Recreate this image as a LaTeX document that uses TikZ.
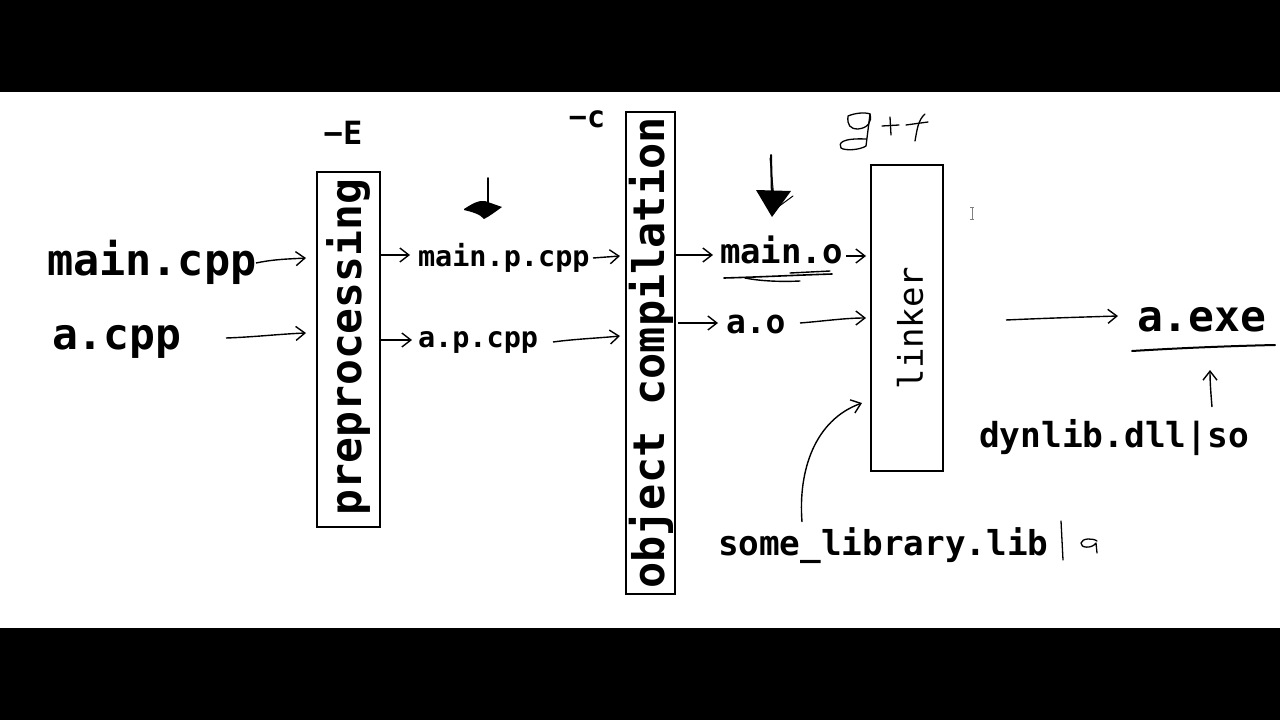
\documentclass[tikz,border=0pt]{standalone}
\usepackage{fontspec}
\newfontfamily\mono{DejaVu Sans Mono}
\usetikzlibrary{arrows.meta}
\tikzset{
  txt/.style={inner sep=0pt, outer sep=0pt, font=\mono\bfseries},
  arr/.style={line width=1.4pt, -{Straight Barb[length=9pt,width=14pt,line width=1.4pt]}},
  hand/.style={line width=1.3pt, line cap=round, line join=round},
}
\begin{document}
\begin{tikzpicture}[x=1pt,y=-1pt]
\useasboundingbox (0,0) rectangle (1280,720);
\fill[black] (0,0) rectangle (1280,720);
\fill[white] (0,92) rectangle (1280,628);

% boxes
\node[draw, line width=2.6pt, minimum width=63pt, minimum height=355pt, inner sep=0pt] (pre) at (348.5,349.5) {};
\node[draw, line width=2.6pt, minimum width=49pt, minimum height=482pt, inner sep=0pt] (obj) at (650.5,353) {};
\node[draw, line width=2.6pt, minimum width=72pt, minimum height=306pt, inner sep=0pt] (lnk) at (907,318) {};

\node[txt, rotate=90, font=\mono\bfseries\fontsize{43}{43}\selectfont] (pretxt) at (348,347) {preprocessing};
\node[txt, rotate=90, font=\mono\bfseries\fontsize{43.5}{43.5}\selectfont] (objtxt) at (651,353) {object compilation};
\node[txt, rotate=90, font=\mono\fontsize{34}{34}\selectfont] (lnktxt) at (910,328) {linker};

% texts
\node[txt, anchor=base west, font=\mono\bfseries\fontsize{43.5}{43.5}\selectfont] (maincpp) at (47,275) {main.cpp};
\node[txt, anchor=base west, font=\mono\bfseries\fontsize{43}{43}\selectfont] (acpp) at (52,349) {a.cpp};
\node[txt, anchor=base, font=\mono\bfseries\fontsize{32}{32}\selectfont] (optE) at (343,144) {−E};
\node[txt, anchor=base, font=\mono\bfseries\fontsize{30}{30}\selectfont] (optc) at (587,127) {−c};
\node[txt, anchor=base west, font=\mono\bfseries\fontsize{28.5}{28.5}\selectfont] (mainp) at (418,266) {main.p.cpp};
\node[txt, anchor=base west, font=\mono\bfseries\fontsize{28.5}{28.5}\selectfont] (ap) at (418,347) {a.p.cpp};
\node[txt, anchor=base west, font=\mono\bfseries\fontsize{34}{34}\selectfont] (maino) at (720,263) {main.o};
\node[txt, anchor=base west, font=\mono\bfseries\fontsize{33}{33}\selectfont] (ao) at (726,333) {a.o};
\node[txt, anchor=base west, font=\mono\bfseries\fontsize{43}{43}\selectfont] (aexe) at (1137,331) {a.exe};
\node[txt, anchor=base west, font=\mono\bfseries\fontsize{34.5}{34.5}\selectfont] (dyn) at (979,447) {dynlib.dll|so};
\node[txt, anchor=base west, font=\mono\bfseries\fontsize{34.3}{34.3}\selectfont] (some) at (718,555) {some\_library.lib};

% connector coordinates
\coordinate (c1) at (256,263);
\coordinate (c1e) at (306,258);
\coordinate (c2) at (226,338);
\coordinate (c2e) at (306,333);
\coordinate (p1e) at (410,255);
\coordinate (p2e) at (412,340);
\coordinate (m1) at (593,258);
\coordinate (m1e) at (620,256);
\coordinate (m2) at (553,342);
\coordinate (m2e) at (620,336);
\coordinate (o1e) at (713,255);
\coordinate (o2s) at (678,323);
\coordinate (o2e) at (718,323);
\coordinate (l1) at (846,256);
\coordinate (l1e) at (866,256);
\coordinate (l2) at (800,323);
\coordinate (l2e) at (866,318);
\coordinate (x1) at (1006,320);
\coordinate (x1e) at (1118,316);
\coordinate (d1) at (1212,407);
\coordinate (d1e) at (1210,370);
\coordinate (s1) at (802,522);
\coordinate (s1e) at (862,403);

\draw[arr] (c1) .. controls (275,259) and (290,259) .. (c1e);
\draw[arr] (c2) .. controls (255,337) and (280,334) .. (c2e);
\draw[arr] (pre.east |- p1e) -- (p1e);
\draw[arr] (pre.east |- p2e) -- (p2e);
\draw[arr] (m1) -- (m1e);
\draw[arr] (m2) .. controls (575,339) and (600,338) .. (m2e);
\draw[arr] (obj.east |- o1e) -- (o1e);
\draw[arr] (o2s) -- (o2e);
\draw[arr] (l1) -- (l1e);
\draw[arr] (l2) .. controls (825,321) and (845,318) .. (l2e);
\draw[arr] (x1) .. controls (1050,318) and (1085,317) .. (x1e);
\draw[arr] (d1) .. controls (1211,395) and (1210,383) .. (d1e);
\draw[arr] (s1) .. controls (798,470) and (815,420) .. (s1e);

% down arrows
\draw[hand, line width=1.6pt] (488,178) -- (488,212);
\fill[black] (464,209) .. controls (472,204) and (478,200) .. (485,201) -- (502,207) .. controls (495,212) and (490,216) .. (484,219) .. controls (480,214) and (472,212) .. (464,210) -- cycle;
\draw[hand, line width=2pt] (771,155) -- (772,200);
\fill[black] (756,190) -- (791,191) -- (772,217) -- cycle;
\draw[hand, line width=1pt] (770,158) -- (774,198);
\draw[hand, line width=1pt] (778,207) -- (793,196);

% underlines
\draw[hand, line width=1.6pt] (724,278) .. controls (760,277) and (800,275) .. (832,274);
\draw[hand, line width=1.4pt] (745,278) .. controls (760,281) and (780,282) .. (800,281);
\draw[hand, line width=1.4pt] (790,273) -- (830,271);
\draw[hand, line width=2pt] (1132,351) .. controls (1180,348) and (1230,346) .. (1275,345);

% handwritten g++
\draw[hand] (848,116) .. controls (855,113) and (865,112) .. (870,114) .. controls (872,122) and (868,128) .. (858,129) .. controls (850,129) and (847,125) .. (848,116);
\draw[hand] (870,114) -- (866,146) .. controls (860,150) and (845,151) .. (841,148) .. controls (838,143) and (842,138) .. (866,139);
\draw[hand] (882,126) -- (899,125);
\draw[hand] (890,117) -- (891,135);
\draw[hand] (906,125) -- (928,122);
\draw[hand] (925,114) .. controls (918,120) and (917,130) .. (915,141);

% handwritten |a
\draw[hand] (1061,521) -- (1063,560);
\draw[hand] (1097,541) .. controls (1093,538) and (1082,538) .. (1081,543) .. controls (1080,548) and (1092,549) .. (1096,543) -- (1097,553);

% cursor
\draw[gray, line width=0.8pt] (972,207) -- (972,219) (970,207) -- (974,207) (970,219) -- (974,219);
\end{tikzpicture}
\end{document}
